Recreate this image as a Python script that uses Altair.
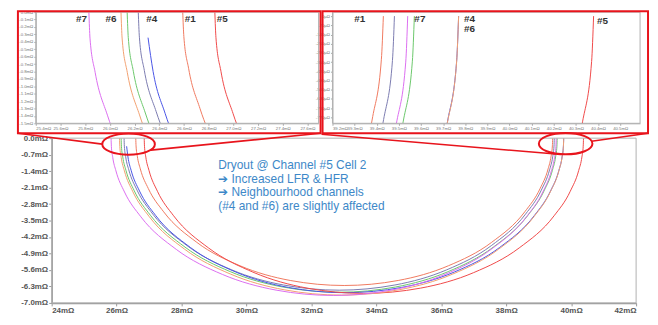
import altair as alt
import pandas as pd

# ---------------- data ----------------
channels = ["#1", "#2", "#3", "#4", "#5", "#6", "#7"]
colors = ["#f07a60", "#6cc86c", "#7c7cb0", "#4a55e6", "#f04a4a", "#f2a070", "#dc6ef0"]

ch1_re = [26.590, 26.599, 26.638, 26.730, 26.977, 27.450, 28.470, 29.800, 31.348, 33.010, 34.672, 36.220, 37.550, 38.570, 39.043, 39.290, 39.382, 39.421, 39.430]
ch1_im = [0, -0.328, -0.763, -1.302, -2.141, -3.130, -4.427, -5.421, -6.047, -6.260, -6.047, -5.421, -4.427, -3.130, -2.141, -1.302, -0.763, -0.328, 0]
ch2_re = [26.140, 26.149, 26.190, 26.287, 26.545, 27.040, 28.107, 29.498, 31.117, 32.855, 34.593, 36.213, 37.603, 38.670, 39.165, 39.423, 39.520, 39.561, 39.570]
ch2_im = [0, -0.343, -0.798, -1.361, -2.239, -3.274, -4.629, -5.670, -6.324, -6.547, -6.324, -5.670, -4.629, -3.274, -2.239, -1.361, -0.798, -0.343, 0]
ch3_re = [26.230, 26.239, 26.279, 26.375, 26.630, 27.118, 28.170, 29.543, 31.140, 32.855, 34.570, 36.168, 37.540, 38.593, 39.080, 39.335, 39.431, 39.471, 39.480]
ch3_im = [0, -0.338, -0.787, -1.343, -2.209, -3.230, -4.567, -5.594, -6.239, -6.459, -6.239, -5.594, -4.567, -3.230, -2.209, -1.343, -0.787, -0.338, 0]
ch4_re = [26.309, 26.350, 26.447, 26.706, 27.202, 28.273, 29.668, 31.292, 33.035, 34.778, 36.403, 37.797, 38.868, 39.364, 39.623, 39.720, 39.761, 39.770]
ch4_im = [-0.344, -0.800, -1.365, -2.246, -3.284, -4.644, -5.687, -6.343, -6.567, -6.343, -5.687, -4.644, -3.284, -2.246, -1.365, -0.800, -0.344, 0]
ch5_re = [26.850, 26.859, 26.900, 26.998, 27.258, 27.756, 28.831, 30.233, 31.864, 33.615, 35.366, 36.998, 38.399, 39.474, 39.972, 40.232, 40.330, 40.371, 40.380]
ch5_im = [0, -0.345, -0.804, -1.371, -2.256, -3.298, -4.664, -5.712, -6.371, -6.596, -6.371, -5.712, -4.664, -3.298, -2.256, -1.371, -0.804, -0.345, 0]
ch6_re = [26.090, 26.099, 26.141, 26.240, 26.503, 27.006, 28.093, 29.510, 31.160, 32.930, 34.700, 36.350, 37.767, 38.854, 39.358, 39.621, 39.719, 39.761, 39.770]
ch6_im = [0, -0.349, -0.813, -1.387, -2.281, -3.335, -4.716, -5.776, -6.442, -6.669, -6.442, -5.776, -4.716, -3.335, -2.281, -1.387, -0.813, -0.349, 0]
ch7_re = [25.830, 25.839, 25.881, 25.980, 26.243, 26.748, 27.838, 29.258, 30.911, 32.685, 34.459, 36.113, 37.532, 38.622, 39.127, 39.390, 39.489, 39.531, 39.540]
ch7_im = [0, -0.350, -0.815, -1.390, -2.286, -3.342, -4.726, -5.789, -6.456, -6.684, -6.456, -5.789, -4.726, -3.342, -2.286, -1.390, -0.815, -0.350, 0]

main_x_ticks = [24, 26, 28, 30, 32, 34, 36, 38, 40, 42]
main_y_ticks = [0, -0.7, -1.4, -2.1, -2.8, -3.5, -4.2, -4.9, -5.6, -6.3, -7.0]
left_x_ticks = [25.4, 25.6, 25.8, 26.0, 26.2, 26.4, 26.6, 26.8, 27.0, 27.2, 27.4, 27.6]
left_y_ticks = [0, -0.1, -0.2, -0.3, -0.4, -0.5, -0.6, -0.7, -0.8, -0.9, -1.0, -1.1, -1.2, -1.3, -1.4, -1.5]
right_x_ticks = [39.2, 39.3, 39.4, 39.5, 39.6, 39.7, 39.8, 39.9, 40.0, 40.1, 40.2, 40.3, 40.4, 40.5]
right_y_ticks = [0, -0.07, -0.14, -0.21, -0.28, -0.35, -0.42, -0.49, -0.56, -0.63, -0.70, -0.77]

left_labels = ["#7", "#6", "#4", "#1", "#5"]
left_label_x = [25.770, 26.010, 26.340, 26.650, 26.910]
left_label_y = [-0.094, -0.094, -0.094, -0.094, -0.094]
right_labels = ["#1", "#7", "#4", "#6", "#5"]
right_label_x = [39.323, 39.595, 39.819, 39.819, 40.420]
right_label_y = [-0.023, -0.023, -0.023, -0.098, -0.034]

note_lines = ["Dryout @ Channel #5 Cell 2", "\u2794 Increased LFR & HFR",
              "\u2794 Neighbourhood channels", "(#4 and #6) are slightly affected"]
note_y = [-1.16, -1.73, -2.30, -2.87]

# ---------------- tables ----------------
res = [ch1_re, ch2_re, ch3_re, ch4_re, ch5_re, ch6_re, ch7_re]
ims = [ch1_im, ch2_im, ch3_im, ch4_im, ch5_im, ch6_im, ch7_im]
rows = []
for ch, xs, ys in zip(channels, res, ims):
    for xv, yv in zip(xs, ys):
        rows.append({"ch": ch, "re": xv, "im": yv})
df = pd.DataFrame(rows)

color = alt.Color("ch:N", scale=alt.Scale(domain=channels, range=colors), legend=None)
FONT = "Liberation Sans"


def lab(fmt, unit, mult="1"):
    return f"(datum.value < 0 ? '-' : '') + format(abs(datum.value)*{mult}, '{fmt}') + '{unit}'"


small_axis = dict(labelFontSize=4.3, labelColor="#777", tickSize=2, tickColor="#aaa",
                  domainColor="#aaa", labelPadding=1, grid=False, title=None,
                  labelFont=FONT, labelOverlap=False)

INSET_H = 112


def inset(xdom, xrange, ydom, xt, yt, xlab, ylab, tx, ty, tl, side, yoff):
    XS = alt.Scale(domain=xdom, range=xrange, nice=False, zero=False)
    YS = alt.Scale(domain=ydom, nice=False, zero=False)
    AX = alt.Axis(values=xt, labelExpr=xlab, orient="bottom", **small_axis)
    AY = alt.Axis(values=yt, labelExpr=ylab, orient="left", offset=yoff, **small_axis)
    half = "datum.re < 33" if side == "L" else "datum.re > 33"
    lines = alt.Chart(df).transform_filter(half).mark_line(
        interpolate="monotone", strokeWidth=1, clip=True).encode(
        x=alt.X("re:Q", scale=XS, axis=AX), y=alt.Y("im:Q", scale=YS, axis=AY), color=color)
    frame = alt.Chart(pd.DataFrame({"x0": [xdom[0]], "x1": [xdom[1]], "y0": [ydom[0]], "y1": [ydom[1]]})).mark_rect(
        fillOpacity=0, stroke="#b0b0b0", strokeWidth=1).encode(
        x=alt.X("x0:Q", scale=XS, axis=AX), x2="x1", y=alt.Y("y0:Q", scale=YS, axis=AY), y2="y1")
    texts = alt.Chart(pd.DataFrame({"x": tx, "y": ty, "t": tl})).mark_text(
        fontSize=10, fontWeight="bold", font=FONT, color="#333", align="center", baseline="middle").encode(
        x=alt.X("x:Q", scale=XS, axis=AX), y=alt.Y("y:Q", scale=YS, axis=AY), text="t:N")
    return alt.layer(lines, frame, texts)


left = inset([25.4, 27.69], [0, 285], [-1.5, 0], left_x_ticks, left_y_ticks,
             lab(".1f", "mΩ"), lab(".1f", "mΩ"), left_label_x, left_label_y, left_labels, "L", 0)
right = inset([39.2, 40.59], [299, 609], [-0.815, 0.03], right_x_ticks, right_y_ticks,
              lab(".1f", "mΩ"), lab("d", "µΩ", "1000"), right_label_x, right_label_y, right_labels, "R", -299)

top = alt.layer(left, right).resolve_scale(x="independent", y="independent").properties(
    width=609, height=INSET_H)

# ---------------- main plot ----------------
MAIN_H = 166
XM = alt.Scale(domain=[24, 42], range=[16, 605], nice=False, zero=False)
YM = alt.Scale(domain=[-7, 0], nice=False, zero=False)
main_axis = dict(labelFontSize=8, labelFontWeight="bold", labelColor="#555", tickSize=3,
                 tickColor="#999", domainColor="#999", domainWidth=1.5, labelPadding=1,
                 grid=False, title=None, labelFont=FONT, labelOverlap=False)
AXM = alt.Axis(values=main_x_ticks, labelExpr="format(datum.value, 'd') + 'mΩ'", orient="bottom", **main_axis)
AYM = alt.Axis(values=main_y_ticks, labelExpr=lab(".1f", "mΩ"), orient="left", offset=-16, **main_axis)

lines_m = alt.Chart(df).mark_line(interpolate="monotone", strokeWidth=1, clip=True).encode(
    x=alt.X("re:Q", scale=XM, axis=AXM), y=alt.Y("im:Q", scale=YM, axis=AYM), color=color)

frame_m = alt.Chart(pd.DataFrame({"x0": [24], "x1": [42], "y0": [-7], "y1": [0]})).mark_rect(
    fillOpacity=0, stroke="#b0b0b0", strokeWidth=1).encode(
    x=alt.X("x0:Q", scale=XM, axis=AXM), x2="x1", y=alt.Y("y0:Q", scale=YM, axis=AYM), y2="y1")

RED = "#e8141c"
boxes = alt.Chart(pd.DataFrame({"x0": [22.961, 32.343], "x1": [32.282, 42.367],
                                "y0": [0.211, 0.211], "y1": [5.398, 5.398]})).mark_rect(
    fillOpacity=0, stroke=RED, strokeWidth=2).encode(
    x=alt.X("x0:Q", scale=XM, axis=AXM), x2="x1", y=alt.Y("y0:Q", scale=YM, axis=AYM), y2="y1")

links = alt.Chart(pd.DataFrame({"xa": [22.961, 27.056, 32.313, 40.626],
                                "xb": [25.559, 32.282, 39.526, 42.367],
                                "ya": [0.211, -0.506, 0.169, -0.127],
                                "yb": [-0.253, 0.211, -0.675, 0.211]})).mark_rule(
    stroke=RED, strokeWidth=1.6).encode(
    x=alt.X("xa:Q", scale=XM, axis=AXM), x2="xb", y=alt.Y("ya:Q", scale=YM, axis=AYM), y2="yb")

ELLIPSE = ("M 1 0 C 1 0.2209 0.5523 0.4 0 0.4 C -0.5523 0.4 -1 0.2209 -1 0 "
           "C -1 -0.2209 -0.5523 -0.4 0 -0.4 C 0.5523 -0.4 1 -0.2209 1 0 Z")
ell_l = alt.Chart(pd.DataFrame({"x": [26.369], "y": [-0.253]})).mark_point(
    shape=ELLIPSE, filled=False, stroke=RED, strokeWidth=2, size=2809, opacity=1).encode(
    x=alt.X("x:Q", scale=XM, axis=AXM), y=alt.Y("y:Q", scale=YM, axis=AYM))
ell_r = alt.Chart(pd.DataFrame({"x": [39.83], "y": [-0.232]})).mark_point(
    shape=ELLIPSE, filled=False, stroke=RED, strokeWidth=2, size=2916, opacity=1).encode(
    x=alt.X("x:Q", scale=XM, axis=AXM), y=alt.Y("y:Q", scale=YM, axis=AYM))

note = alt.Chart(pd.DataFrame({"x": [29.13] * 4, "y": note_y, "t": note_lines})).mark_text(
    align="left", baseline="middle", fontSize=12, font=FONT, color="#3d88c8").encode(
    x=alt.X("x:Q", scale=XM, axis=AXM), y=alt.Y("y:Q", scale=YM, axis=AYM), text="t:N")

main = alt.layer(lines_m, frame_m, note, boxes, links, ell_l, ell_r).properties(width=605, height=MAIN_H)

chart = alt.vconcat(top, main, spacing=15, bounds="flush").properties(
    padding={"left": 9, "top": 0, "right": 0, "bottom": 0}, background="white"
).configure_view(stroke=None)

chart.save("out.html", embed_options={"renderer": "svg", "actions": False})
